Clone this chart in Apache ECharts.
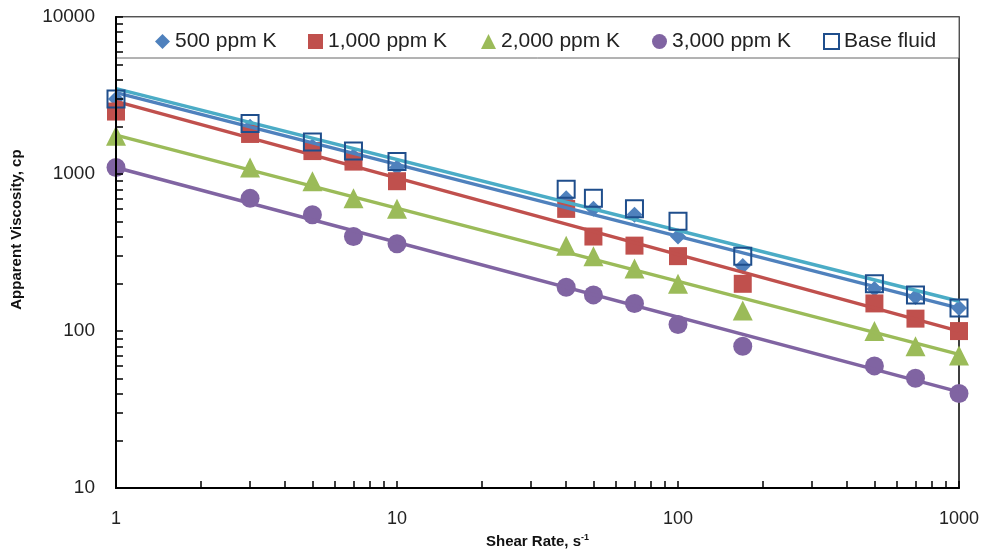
<!DOCTYPE html>
<html><head><meta charset="utf-8">
<script src="https://cdn.jsdelivr.net/npm/echarts@6/dist/echarts.min.js"></script>
<style>html,body{margin:0;padding:0;background:#fff}#c{width:987px;height:554px}</style>
</head><body><div id="c"></div>
<script>
const shearRate = [1, 3, 5, 7, 10, 40, 50, 70, 100, 170, 500, 700, 1000];
const k500  = [3000, 2000, 1500, 1300, 1100, 700, 600, 550, 400, 260, 185, 165, 140];
const k1000 = [2500, 1800, 1400, 1200, 900, 600, 400, 350, 300, 200, 150, 120, 100];
const k2000 = [1750, 1100, 900, 700, 600, 350, 300, 250, 200, 135, 100, 80, 70];
const k3000 = [1100, 700, 550, 400, 360, 190, 170, 150, 110, 80, 60, 50, 40];
const baseFluid = [3000, 2100, 1600, 1400, 1200, 800, 700, 600, 500, 300, 200, 170, 140];
const trendX = [1, 1000];
const trendBase = [3500, 155];
const trend500 = [3300, 140];
const trend1000 = [2900, 100];
const trend2000 = [1770, 71];
const trend3000 = [1100, 41];
const names = ['500 ppm K', '1,000 ppm K', '2,000 ppm K', '3,000 ppm K', 'Base fluid'];
const xTickLabels = [1, 10, 100, 1000];
const yTickLabels = [10, 100, 1000, 10000];

function logTicks(lo, hi) {
  const out = [];
  for (let d = lo; d < hi; d *= 10) for (let m = 1; m < 10; m++) out.push(d * m);
  out.push(hi);
  return out;
}
const pairs = (xs, ys) => xs.map((x, i) => [x, ys[i]]);

const chart = echarts.init(document.getElementById('c'));
const font = 'Liberation Sans, Arial, sans-serif';
function scatter(name, vals, symbol, size, color, extra) {
  return Object.assign({
    name, type: 'scatter', data: pairs(shearRate, vals), symbol, symbolSize: size,
    itemStyle: { color, opacity: 1 }, z: 3
  }, extra || {});
}
function trend(vals, color) {
  return { type: 'line', data: pairs(trendX, vals), symbol: 'none', lineStyle: { color, width: 3.5 }, z: 4, silent: true };
}
const legendLefts = [150, 303, 476, 647, 818];
const legends = names.map((n, i) => ({
  data: [n], left: legendLefts[i], top: 26, itemWidth: 15, itemHeight: 15,
  textStyle: { fontFamily: font, fontSize: 21, color: '#222' }, z: 10
}));
chart.setOption({
  animation: false,
  grid: { left: 116, right: 28, top: 17, bottom: 65, show: true, borderColor: '#000', borderWidth: 1.5 },
  graphic: [{ type: 'rect', shape: { x: 116, y: 17, width: 843, height: 41 }, style: { fill: '#fff', stroke: '#666', lineWidth: 1 }, z: 1 }],
  legend: legends,
  xAxis: {
    type: 'log', logBase: 10, min: 1, max: 1000, z: 10,
    name: '{a|Shear Rate, s}{b|-1}', nameLocation: 'middle', nameGap: 44,
    nameTextStyle: { rich: { a: { fontFamily: font, fontSize: 15, fontWeight: 'bold', color: '#111' }, b: { fontFamily: font, fontSize: 9, fontWeight: 'bold', color: '#111', verticalAlign: 'top', padding: [0, 0, 8, 0] } } },
    axisLine: { lineStyle: { color: '#000', width: 2 } },
    axisTick: { inside: true, length: 7, lineStyle: { color: '#000', width: 1.5 }, customValues: logTicks(1, 1000) },
    axisLabel: { fontFamily: font, fontSize: 18, color: '#222', margin: 22, customValues: xTickLabels, formatter: v => String(Math.round(v)) },
    splitLine: { show: false }
  },
  yAxis: {
    type: 'log', logBase: 10, min: 10, max: 10000, z: 10,
    name: 'Apparent Viscosity, cp', nameLocation: 'middle', nameGap: 92, nameRotate: 90,
    nameTextStyle: { fontFamily: font, fontSize: 15, fontWeight: 'bold', color: '#111', padding: [0, 0, 0, 46] },
    axisLine: { lineStyle: { color: '#000', width: 2 } },
    axisTick: { inside: true, length: 7, lineStyle: { color: '#000', width: 1.5 }, customValues: logTicks(10, 10000) },
    axisLabel: { fontFamily: font, fontSize: 19, color: '#222', margin: 21, customValues: yTickLabels, formatter: v => String(Math.round(v)) },
    splitLine: { show: false }
  },
  series: [
    scatter(names[0], k500, 'diamond', 16, '#4F81BD'),
    scatter(names[1], k1000, 'rect', 18, '#C0504D'),
    scatter(names[2], k2000, 'triangle', 20, '#9BBB59'),
    scatter(names[3], k3000, 'circle', 19, '#8064A2'),
    scatter(names[4], baseFluid, 'rect', 17, 'rgba(255,255,255,0)', { itemStyle: { color: 'rgba(255,255,255,0)', borderColor: '#1F4E8C', borderWidth: 2, opacity: 1 }, z: 5 }),
    trend(trendBase, '#4BACC6'),
    trend(trend500, '#4F81BD'),
    trend(trend1000, '#C0504D'),
    trend(trend2000, '#9BBB59'),
    trend(trend3000, '#8064A2')
  ]
});
</script></body></html>
